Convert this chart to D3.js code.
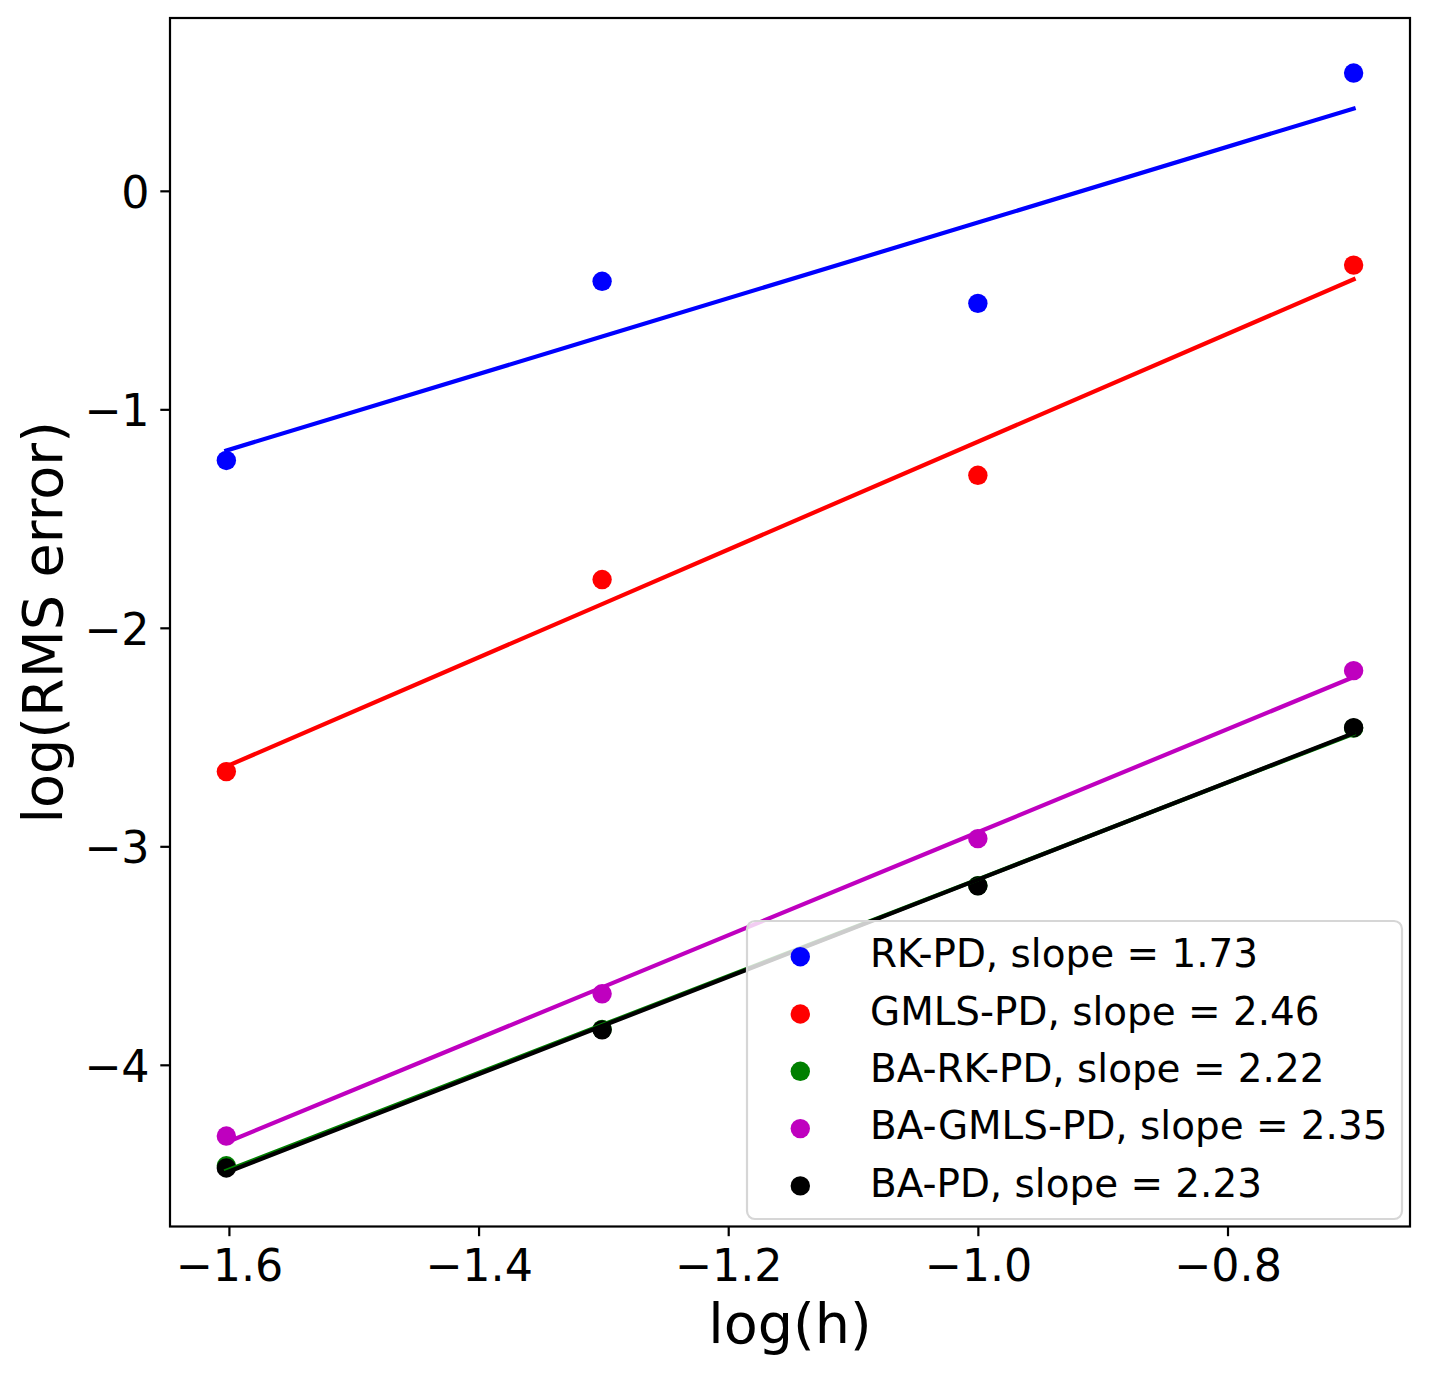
<!DOCTYPE html>
<html>
<head>
<meta charset="utf-8">
<script src="https://cdn.jsdelivr.net/npm/d3@7/dist/d3.min.js"></script>
<style>
  html, body { margin: 0; padding: 0; background: #ffffff; }
  svg { display: block; }
  text { font-family: "DejaVu Sans", "Liberation Sans", sans-serif; fill: #000; }
</style>
</head>
<body>
<svg id="chart" width="1430" height="1375"></svg>
<script>
// ---- data ----
const logH = [-1.60206, -1.30103, -1.0, -0.69897];
const rkPD = [-1.234, -0.414, -0.515, 0.539];
const gmlsPD = [-2.658, -1.779, -1.302, -0.340];
const baRkPD = [-4.462, -3.838, -3.180, -2.459];
const baGmlsPD = [-4.326, -3.675, -2.965, -2.196];
const baPD = [-4.472, -3.840, -3.181, -2.457];
const seriesNames = ["RK-PD", "GMLS-PD", "BA-RK-PD", "BA-GMLS-PD", "BA-PD"];
const slopeLabels = ["1.73", "2.46", "2.22", "2.35", "2.23"];
const seriesColors = ["#0000ff", "#ff0000", "#008000", "#bf00bf", "#000000"];
const xTicks = [-1.6, -1.4, -1.2, -1.0, -0.8];
const yTicks = [0, -1, -2, -3, -4];
const xDomain = [-1.6472, -0.6538];
const yDomain = [-4.740, 0.791];

const seriesValues = [rkPD, gmlsPD, baRkPD, baGmlsPD, baPD];

(function () {
  const svg = d3.select("#chart");
  const pL = 170, pR = 1410, pT = 18, pB = 1226.5;
  const x = d3.scaleLinear().domain(xDomain).range([pL, pR]);
  const y = d3.scaleLinear().domain(yDomain).range([pB, pT]);

  const tickFont = 44.4, legendFont = 38.9, labelFont = 55.6;
  const tickLen = 9.7, tickPad = 9.7;

  function fit(xs, ys) {
    const mx = d3.mean(xs), my = d3.mean(ys);
    let sxy = 0, sxx = 0;
    xs.forEach((xv, i) => { sxy += (xv - mx) * (ys[i] - my); sxx += (xv - mx) * (xv - mx); });
    const m = sxy / sxx;
    return { m, b: my - m * mx };
  }

  svg.append("clipPath").attr("id", "clip").append("rect")
    .attr("x", pL).attr("y", pT).attr("width", pR - pL).attr("height", pB - pT);
  const g = svg.append("g").attr("clip-path", "url(#clip)");

  // scatter points (below lines, like matplotlib zorder)
  seriesValues.forEach((vals, si) => {
    g.selectAll(null).data(vals.map((v, i) => [logH[i], v])).enter()
      .append("circle")
      .attr("cx", d => x(d[0])).attr("cy", d => y(d[1]))
      .attr("r", 9.7).attr("fill", seriesColors[si]);
  });

  // fitted lines
  const line = d3.line().x(d => x(d[0])).y(d => y(d[1]));
  seriesValues.forEach((vals, si) => {
    const f = fit(logH, vals);
    const pts = logH.map(xv => [xv, f.m * xv + f.b]);
    g.append("path").datum(pts).attr("d", line)
      .attr("fill", "none").attr("stroke", seriesColors[si]).attr("stroke-width", 4.2)
      .attr("stroke-linecap", "square");
  });

  // frame
  svg.append("rect").attr("x", pL).attr("y", pT)
    .attr("width", pR - pL).attr("height", pB - pT)
    .attr("fill", "none").attr("stroke", "#000").attr("stroke-width", 2.2);

  // x axis
  const xAxis = d3.axisBottom(x).tickValues(xTicks).tickSize(tickLen).tickPadding(tickPad)
    .tickFormat(d => d3.format(".1f")(d).replace("-", "\u2212"));
  const gx = svg.append("g").attr("transform", `translate(0,${pB})`).call(xAxis);
  gx.select(".domain").remove();
  gx.selectAll(".tick line").attr("stroke", "#000").attr("stroke-width", 2.2);
  gx.selectAll(".tick text").attr("font-size", tickFont).attr("font-family", "DejaVu Sans")
    .attr("fill", "#000").attr("dy", null).attr("y", 54.5);

  // y axis
  const yAxis = d3.axisLeft(y).tickValues(yTicks).tickSize(tickLen).tickPadding(tickPad)
    .tickFormat(d => String(d).replace("-", "\u2212"));
  const gy = svg.append("g").attr("transform", `translate(${pL},0)`).call(yAxis);
  gy.select(".domain").remove();
  gy.selectAll(".tick line").attr("stroke", "#000").attr("stroke-width", 2.2);
  gy.selectAll(".tick text").attr("font-size", tickFont).attr("font-family", "DejaVu Sans")
    .attr("fill", "#000").attr("dy", null).attr("y", 16.2).attr("x", -(tickLen + tickPad + 1));

  // axis labels
  svg.append("text").attr("x", (pL + pR) / 2).attr("y", 1343)
    .attr("text-anchor", "middle").attr("font-size", labelFont).text("log(h)");
  svg.append("text").attr("transform", `translate(61.7,${(pT + pB) / 2}) rotate(-90)`)
    .attr("text-anchor", "middle").attr("font-size", labelFont).text("log(RMS error)");

  // legend
  const lg = svg.append("g");
  lg.append("rect").attr("x", 747).attr("y", 921).attr("width", 1402 - 747).attr("height", 1219 - 921)
    .attr("rx", 8).attr("ry", 8)
    .attr("fill", "#ffffff").attr("fill-opacity", 0.8)
    .attr("stroke", "#d6d6d6").attr("stroke-width", 2.2);
  const rowStep = 57.3;
  seriesNames.forEach((name, i) => {
    const cy = 956.7 + i * rowStep;
    lg.append("circle").attr("cx", 800.3).attr("cy", cy).attr("r", 9.7).attr("fill", seriesColors[i]);
    lg.append("text").attr("x", 870).attr("y", cy + 10.6)
      .attr("font-size", legendFont).text(`${name}, slope = ${slopeLabels[i]}`);
  });
})();
</script>
</body>
</html>
